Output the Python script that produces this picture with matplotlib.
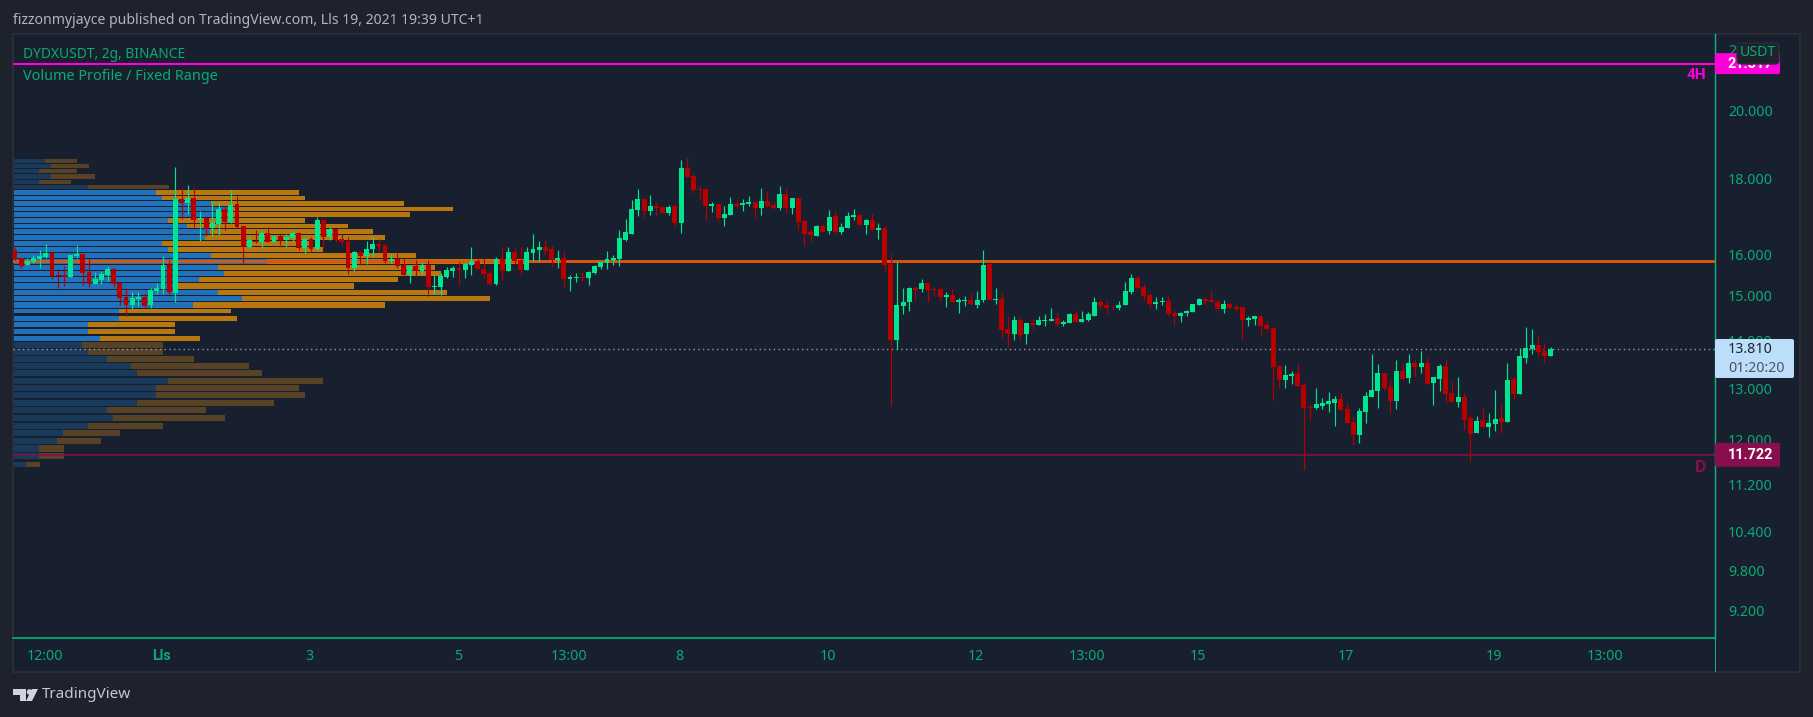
import numpy as np
import matplotlib
matplotlib.use("Agg")
import matplotlib.pyplot as plt
from matplotlib.patches import Rectangle, FancyBboxPatch, Polygon, Circle
from matplotlib.transforms import IdentityTransform

opens = [
16.11,15.91,15.74,15.81,15.89,15.94,16.04,15.49,15.50,15.45,
15.96,16.01,15.57,15.29,15.38,15.50,15.64,15.31,14.98,14.80,
14.94,14.98,14.80,15.12,15.17,15.74,15.08,17.44,17.33,17.47,
16.88,16.93,16.67,16.78,17.17,16.83,17.30,16.73,16.19,16.34,
16.31,16.54,16.31,16.47,16.36,16.41,16.54,16.16,16.39,16.14,
16.88,16.44,16.65,16.39,16.34,15.67,16.06,15.96,16.14,16.26,
16.24,15.84,15.89,15.74,15.50,15.72,15.59,15.74,15.21,15.21,
15.45,15.59,15.67,15.62,15.74,15.84,15.64,15.55,15.29,15.89,
15.59,16.06,15.86,15.62,16.04,16.11,16.19,16.14,15.86,15.91,
15.40,15.43,15.45,15.43,15.55,15.69,15.79,15.86,15.89,16.36,
16.52,17.14,17.44,17.12,17.25,17.22,17.06,17.25,16.80,18.29,
18.07,17.71,17.71,17.25,17.30,16.93,17.01,17.30,17.28,17.30,
17.36,17.20,17.38,17.28,17.20,17.57,17.20,17.47,16.85,16.57,
16.47,16.73,16.60,16.99,16.57,16.67,16.96,17.01,16.75,16.88,
16.62,16.67,15.77,14.01,14.78,14.85,15.19,15.17,15.31,15.17,
15.17,14.98,15.03,14.87,14.89,14.91,14.80,14.91,15.77,14.91,
14.94,14.25,14.14,14.45,14.14,14.39,14.34,14.43,14.43,14.50,
14.36,14.39,14.58,14.41,14.45,14.55,14.87,14.80,14.75,14.73,
14.80,15.10,15.43,15.21,15.03,14.82,14.85,14.89,14.60,14.55,
14.60,14.63,14.80,14.94,14.91,14.87,14.71,14.82,14.75,14.75,
14.45,14.48,14.53,14.34,14.27,13.45,13.16,13.24,13.31,13.06,
12.62,12.60,12.64,12.68,12.70,12.78,12.58,12.34,12.09,12.53,
12.82,12.94,13.31,13.02,12.74,13.35,13.20,13.52,13.43,13.52,
13.10,13.18,13.45,12.90,12.72,12.82,12.41,12.12,12.37,12.24,
12.30,12.41,12.34,13.18,12.88,13.62,13.81,13.90,13.77,13.66]
highs = [
16.18,15.94,15.90,15.99,16.11,16.26,16.06,15.64,15.72,15.99,
16.24,16.01,15.89,15.57,15.59,15.72,15.67,15.31,15.19,15.10,
15.10,15.08,15.19,15.31,15.96,15.86,18.33,17.76,17.82,17.76,
17.12,16.93,17.38,17.36,17.25,17.68,17.52,16.73,16.47,16.62,
16.60,16.70,16.47,16.52,16.52,16.60,16.57,16.41,16.44,16.96,
16.88,16.70,16.65,16.52,16.44,16.09,16.09,16.34,16.44,16.39,
16.26,16.01,16.04,15.91,15.74,15.86,15.81,15.86,15.50,15.55,
15.69,15.72,15.81,15.81,16.19,15.94,15.91,15.62,15.94,16.19,
16.19,16.19,16.21,16.19,16.52,16.34,16.36,16.21,16.11,16.09,
15.50,15.55,15.57,15.59,15.74,15.84,16.09,15.99,16.62,16.91,
17.41,17.71,17.47,17.55,17.36,17.22,17.28,17.30,18.52,18.58,
18.16,17.79,17.71,17.36,17.30,17.25,17.50,17.41,17.44,17.52,
17.36,17.74,17.65,17.36,17.79,17.74,17.47,17.47,16.91,16.65,
16.75,16.78,17.14,17.12,16.80,17.09,17.17,17.04,16.91,17.04,
16.80,16.73,16.01,15.81,15.19,15.21,15.24,15.40,15.31,15.21,
15.19,15.10,15.17,14.96,15.01,15.08,15.12,16.11,15.81,15.19,
15.08,14.53,14.53,14.50,14.39,14.50,14.53,14.58,14.73,14.60,
14.45,14.62,14.66,14.66,14.63,14.98,14.91,14.91,14.80,14.89,
15.33,15.52,15.47,15.29,15.08,14.98,14.98,15.01,14.68,14.63,
14.68,14.82,14.96,14.98,15.14,14.94,14.91,14.85,14.82,14.75,
14.55,14.55,14.53,14.43,14.30,13.47,13.47,13.35,13.52,13.10,
12.68,13.00,12.80,12.92,12.84,12.90,12.70,12.45,12.60,12.92,
13.71,13.50,13.31,13.16,13.58,13.50,13.71,13.58,13.77,13.62,
13.22,13.50,13.60,13.14,13.22,12.90,12.47,12.45,12.60,12.51,
12.96,12.68,13.52,13.24,13.83,14.30,14.25,14.10,13.94,13.86]
lows = [
15.85,15.67,15.73,15.80,15.67,15.91,15.40,15.19,15.24,15.45,
15.91,15.26,15.21,15.29,15.29,15.36,15.21,14.80,14.53,14.71,
14.78,14.73,14.73,15.05,15.05,15.05,14.87,16.91,17.04,16.70,
16.34,16.47,16.47,16.49,16.62,16.80,16.67,15.79,16.16,16.29,
16.19,16.31,16.31,16.24,16.19,16.34,16.11,16.04,16.09,16.11,
16.16,16.36,16.31,16.21,15.52,15.59,15.77,15.77,15.94,16.06,
15.79,15.79,15.67,15.50,15.31,15.47,15.52,15.01,15.05,15.03,
15.43,15.45,15.26,15.43,15.50,15.64,15.43,15.26,15.26,15.38,
15.59,15.77,15.50,15.62,15.84,15.81,15.99,15.69,15.67,15.21,
15.12,15.33,15.36,15.26,15.52,15.64,15.64,15.74,15.72,16.34,
16.52,16.99,16.96,17.01,17.01,17.06,17.01,16.70,16.54,18.04,
17.60,17.44,16.85,17.09,16.85,16.73,17.01,17.20,17.12,17.25,
16.96,17.01,17.22,17.17,17.14,17.04,17.04,16.62,16.21,16.34,
16.47,16.57,16.52,16.52,16.52,16.67,16.88,16.75,16.52,16.60,
16.39,15.59,12.64,13.81,14.58,14.66,14.91,15.10,14.87,15.03,
14.89,14.75,14.87,14.62,14.78,14.80,14.73,14.85,14.91,14.82,
14.05,13.86,14.01,14.01,13.92,14.25,14.34,14.32,14.43,14.32,
14.32,14.39,14.41,14.41,14.43,14.55,14.71,14.60,14.68,14.68,
14.80,15.05,15.17,14.91,14.73,14.71,14.80,14.53,14.34,14.41,
14.55,14.63,14.80,14.82,14.85,14.71,14.62,14.73,14.66,14.01,
14.32,14.34,14.12,14.21,12.76,13.00,13.00,13.08,13.04,11.45,
12.37,12.58,12.58,12.53,12.26,12.55,12.32,11.90,11.94,12.32,
12.82,12.60,12.96,12.51,12.58,13.16,13.10,13.22,13.31,13.08,
12.66,12.94,12.70,12.72,12.62,12.18,11.61,12.12,12.22,12.05,
12.16,12.12,12.34,12.78,12.88,13.52,13.71,13.64,13.52,13.66]
closes = [
15.88,15.72,15.84,15.91,15.96,16.04,15.47,15.47,15.46,15.99,
16.01,15.55,15.29,15.40,15.52,15.64,15.29,14.96,14.80,14.96,
14.98,14.78,15.14,15.19,15.74,15.10,17.44,17.33,17.47,16.88,
16.93,16.65,16.80,17.17,16.83,17.28,16.70,16.19,16.36,16.31,
16.54,16.31,16.47,16.36,16.44,16.54,16.16,16.39,16.14,16.88,
16.44,16.65,16.36,16.31,15.67,16.06,15.96,16.14,16.26,16.21,
15.84,15.89,15.72,15.50,15.72,15.59,15.74,15.21,15.24,15.47,
15.62,15.67,15.62,15.77,15.84,15.64,15.52,15.29,15.89,15.59,
16.06,15.84,15.62,16.06,16.14,16.19,16.09,15.86,15.91,15.40,
15.45,15.45,15.43,15.57,15.72,15.81,15.89,15.91,16.41,16.57,
17.17,17.44,17.12,17.25,17.20,17.06,17.22,16.80,18.29,18.04,
17.68,17.69,17.25,17.30,16.93,17.04,17.30,17.25,17.33,17.36,
17.20,17.38,17.25,17.20,17.57,17.20,17.47,16.83,16.52,16.49,
16.73,16.57,16.96,16.57,16.70,16.99,17.01,16.75,16.88,16.62,
16.67,15.74,14.01,14.80,14.87,15.19,15.14,15.31,15.14,15.15,
14.98,15.03,14.87,14.91,14.91,14.82,14.91,15.74,14.91,14.94,
14.23,14.14,14.45,14.12,14.39,14.34,14.45,14.45,14.48,14.36,
14.41,14.58,14.41,14.48,14.58,14.87,14.78,14.73,14.74,14.80,
15.12,15.43,15.19,15.01,14.82,14.87,14.89,14.58,14.55,14.62,
14.66,14.82,14.94,14.89,14.85,14.71,14.82,14.73,14.71,14.45,
14.50,14.53,14.32,14.25,13.43,13.16,13.27,13.29,13.04,12.60,
12.60,12.68,12.70,12.74,12.78,12.57,12.32,12.09,12.55,12.84,
12.96,13.31,13.00,12.74,13.35,13.18,13.52,13.43,13.52,13.08,
13.22,13.45,12.88,12.72,12.82,12.37,12.10,12.35,12.24,12.32,
12.39,12.34,13.16,12.88,13.66,13.83,13.90,13.75,13.66,13.81]

vp_high = [18.55,18.41,18.27,18.13,17.96,17.82,17.68,17.52,17.38,17.22,17.09,16.93,16.78,16.65,
           16.49,16.34,16.19,16.04,15.89,15.74,15.59,15.45,15.31,15.14,15.01,14.85,14.71,14.55,
           14.41,14.25,14.10,13.97,13.81,13.66,13.52,13.37,13.21,13.06,12.92,12.76,12.62,12.47,
           12.32,12.19,12.04,11.90,11.76,11.60]
vp_low = [18.44,18.29,18.16,18.00,17.85,17.71,17.55,17.41,17.25,17.12,16.96,16.80,16.67,16.52,
          16.36,16.21,16.06,15.91,15.77,15.62,15.47,15.33,15.17,15.03,14.89,14.73,14.60,14.43,
          14.30,14.14,13.99,13.83,13.68,13.53,13.40,13.25,13.08,12.94,12.80,12.64,12.51,12.36,
          12.21,12.07,11.92,11.77,11.64,11.50]
vp_buy = [31,37,25,37,25,74,142,148,197,216,203,154,173,196,191,148,154,197,253,204,210,185,161,204,
          228,179,105,105,74,74,86,68,74,93,117,123,154,142,142,123,93,99,74,49,43,25,25,12]
vp_sell = [32,38,38,44,32,81,143,143,193,223,193,137,161,163,180,148,155,205,257,217,217,199,179,229,
           248,192,112,118,87,87,100,81,75,87,118,125,155,143,149,137,99,112,75,57,44,25,25,14]
value_area_high = 17.70
value_area_low = 13.98

price_ticks = [22, 20, 18, 16, 15, 14, 13, 12, 11.2, 10.4, 9.8, 9.2]
time_ticks = [5.8, 24.8, 48.8, 72.8, 90.8, 108.8, 132.8, 156.8, 174.8, 192.8, 216.8, 240.8, 258.8]
time_labels = ["12:00", "Lls", "3", "5", "13:00", "8", "10", "12", "13:00", "15", "17", "19", "13:00"]

level_4h = 21.517
level_poc = 15.83
level_d = 11.722
last_price = 13.810

W, H = 1813, 717
plt.rcParams["font.family"] = "Noto Sans"
BOLD = "Roboto"
OUTER = "#1e222d"; PANE = "#181f2e"; BORDER = "#2a2e39"
TXT = "#0aab74"; GRID_G = "#0fb57f"
UP = "#00e690"; DOWN = "#b90000"

fig = plt.figure(figsize=(W/100, H/100), dpi=100, facecolor=OUTER)

def rect_px(x0, y0, x1, y1):
    return [x0/W, 1-y1/H, (x1-x0)/W, (y1-y0)/H]

identity = IdentityTransform()
fig.add_artist(Rectangle((13, H-672), 1787, 638, transform=identity, fc=PANE, ec=BORDER, lw=1.4, zorder=0))

ax_vp = fig.add_axes(rect_px(14, 34, 1716, 638), zorder=1)
ax = fig.add_axes(rect_px(13, 34, 1715, 638), zorder=2)
for a in (ax, ax_vp):
    a.patch.set_visible(False)
    a.set_yscale("log")
    a.set_ylim(8.82, 22.53)
ax.set_xlim(0.676, 276.66)

# volume profile, one unit of volume = one pixel wide
ax_vp.set_xlim(0, 1702)
vh = np.array(vp_high); vl = np.array(vp_low)
buy = np.array(vp_buy, float); sell = np.array(vp_sell, float)
in_va = (vh <= value_area_high) & (vl >= value_area_low)
for top, bot, b, s, va in zip(vh, vl, buy, sell, in_va):
    ax_vp.barh(bot, b, height=top-bot, align="edge", left=0, color="#1f72bb" if va else "#1a3a5c", lw=0)
    ax_vp.barh(bot, s, height=top-bot, align="edge", left=b, color="#b8770f" if va else "#574225", lw=0)
ax_vp.set_axis_off()

# levels
ax.axhline(level_4h, color="#ff00dc", lw=1.5, zorder=1)
ax.axhline(level_poc, color="#d9560f", lw=2.1, zorder=1)
ax.axhline(level_d, color="#880e4f", lw=1.1, zorder=1)
ax.axhline(last_price, color="#9a9eaa", lw=1.0, ls=(0, (1, 2.4)), zorder=1)

# candles
o = np.array(opens); h_ = np.array(highs); l_ = np.array(lows); c = np.array(closes)
idx = np.arange(1, len(o)+1)
cols = np.where(c >= o, UP, DOWN)
ax.vlines(idx, l_, h_, colors=cols, lw=0.85, zorder=2)
bot = np.minimum(o, c); hgt = np.maximum(np.abs(c-o), 0.012)
ax.bar(idx, hgt, bottom=bot, width=0.8, color=cols, lw=0, zorder=3)

# axes dressing
for name, sp in ax.spines.items():
    sp.set_visible(False)
ax.spines["right"].set_visible(True); ax.spines["right"].set_color(GRID_G); ax.spines["right"].set_linewidth(1)
ax.spines["bottom"].set_visible(True); ax.spines["bottom"].set_color("#00c27e"); ax.spines["bottom"].set_linewidth(1.1)
fig.add_artist(Rectangle((1714.5, H-672), 1, 35, transform=identity, fc=GRID_G, lw=0, zorder=1))

ax.yaxis.tick_right()
ax.set_yticks(price_ticks)
ax.set_yticklabels([f"{p:.3f}" for p in price_ticks])
ax.minorticks_off()
ax.tick_params(axis="y", length=0, pad=9.4, labelcolor=TXT, labelsize=10.2)
ax.set_xticks(time_ticks)
ax.set_xticklabels(time_labels)
ax.tick_params(axis="x", length=0, pad=7.7, labelcolor=TXT, labelsize=10.2)
lbl = ax.get_xticklabels()[1]
lbl.set_fontfamily(BOLD); lbl.set_fontweight("bold")

# price tags
def py(price):
    return ax.transData.transform((0, price))[1]

def tag(price, text, fc, width, height):
    y = py(price)
    fig.add_artist(FancyBboxPatch((1715, y-height/2), width, height, transform=identity,
                                  boxstyle="round,pad=0,rounding_size=2", fc=fc, lw=0, zorder=5))
    fig.text(1728/W, y/H, text, color="white", fontsize=10.4, fontfamily=BOLD, fontweight="bold",
             ha="left", va="center", zorder=6)

tag(level_4h, f"{level_4h:.3f}", "#ff00dc", 65, 21)
tag(level_d, f"{level_d:.3f}", "#880e4f", 65, 24)
fig.add_artist(FancyBboxPatch((1715, H-378), 79, 39, transform=identity,
                              boxstyle="round,pad=0,rounding_size=2", fc="#bbdefb", lw=0, zorder=5))
fig.text(1728/W, 1-349.5/H, f"{last_price:.3f}", color="#1e222d", fontsize=10.2, ha="left", va="center", zorder=6)
fig.text(1728/W, 1-368/H, "01:20:20", color="#50535e", fontsize=10.2, ha="left", va="center", zorder=6)

# USDT button
fig.add_artist(FancyBboxPatch((1737, H-64), 42, 21, transform=identity,
                              boxstyle="round,pad=0,rounding_size=4", fc=OUTER, ec=BORDER, lw=1, zorder=7))
fig.text(1758/W, 1-53/H, "USDT", color=TXT, fontsize=10.2, ha="center", va="center", zorder=8)

# labels next to levels
fig.text(1706/W, 1-75/H, "4H", color="#ff00dc", fontsize=11, fontfamily=BOLD, fontweight="bold",
         ha="right", va="center", zorder=6)
fig.text(1706/W, 1-468/H, "D", color="#880e4f", fontsize=12.5, fontfamily=BOLD, fontweight="bold",
         ha="right", va="center", zorder=6)

# header / legend
fig.text(13/W, 1-20/H, "fizzonmyjayce published on TradingView.com, Lls 19, 2021 19:39 UTC+1",
         color="#b2b5be", fontsize=10.1, ha="left", va="center")
fig.text(23/W, 1-54.5/H, "DYDXUSDT, 2g, BINANCE", color=TXT, fontsize=9.9, ha="left", va="center", zorder=6)
fig.text(23/W, 1-76/H, "Volume Profile / Fixed Range", color=TXT, fontsize=10.4, ha="left", va="center", zorder=6)

# TradingView logo
LOGO = "#d1d4dc"
fig.add_artist(Polygon([(13, H-689), (26, H-689), (26, H-701), (20, H-701), (20, H-695), (13, H-695)],
                       closed=True, transform=identity, fc=LOGO, lw=0))
fig.add_artist(Circle((29.5, H-692), 2.8, transform=identity, fc=LOGO, lw=0))
fig.add_artist(Polygon([(32, H-689), (38, H-689), (32, H-701), (26, H-701)],
                       closed=True, transform=identity, fc=LOGO, lw=0))
fig.text(42/W, 1-695/H, "TradingView", color="#c4c7d0", fontsize=11, ha="left", va="center")

fig.savefig("out.png", dpi=100, facecolor=OUTER)
